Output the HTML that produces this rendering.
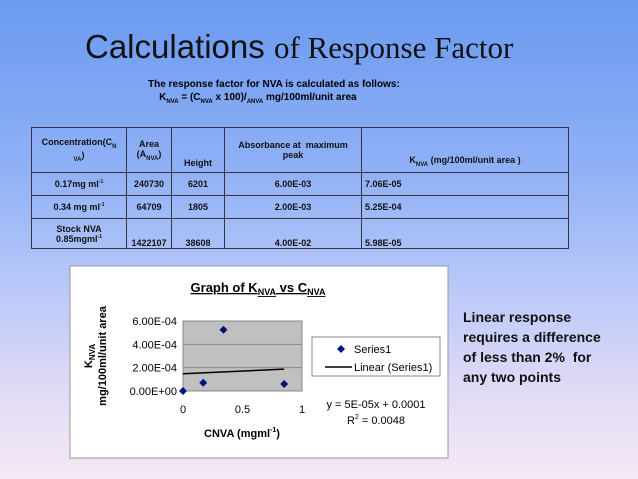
<!DOCTYPE html>
<html><head><meta charset="utf-8"><style>
body{margin:0;width:638px;height:479px;overflow:hidden;font-family:"Liberation Sans",sans-serif;}
#bg{position:absolute;left:0;top:0;width:638px;height:479px;background:linear-gradient(180deg,#6a9af0 0%,#8fb0f6 35%,#b9c8f8 60%,#e6ddf6 85%,#f4e8f4 100%);}
.t{position:absolute;white-space:nowrap;}
table{position:absolute;left:31px;top:127px;width:538px;border-collapse:collapse;font-size:9px;font-weight:bold;color:#111;}
td{border:1px solid #334;text-align:center;padding:0 3px;}
td.l{text-align:left;}
sub{font-size:6px;}
</style></head><body>
<div id="bg"></div>
<div class="t" style="left:85px;top:28px;font-size:33px;color:#111;"><span style="font-family:'Liberation Sans',sans-serif">Calculations</span> <span style="font-family:'Liberation Serif',serif;font-size:31px">of Response Factor</span></div>
<div class="t" style="left:148px;top:78px;font-size:10px;font-weight:bold;line-height:13px;">The response factor for NVA is calculated as follows:<br>&nbsp;&nbsp;&nbsp;&nbsp;K<sub>NVA</sub> = (C<sub>NVA</sub> x 100)/<sub>ANVA</sub> mg/100ml/unit area</div>
<table>
<tr style="height:45px"><td style="width:88px">Concentration(C<sub>N</sub><br><sub>VA</sub>)</td><td style="width:38px">Area<br>(A<sub>NVA</sub>)</td><td style="width:46px;vertical-align:bottom;padding-bottom:4px">Height</td><td style="width:130px">Absorbance at &nbsp;maximum<br>peak</td><td style="vertical-align:bottom;padding-bottom:4px">K<sub>NVA</sub> (mg/100ml/unit area )</td></tr>
<tr style="height:23px"><td>0.17mg ml<sup style="font-size:5px">-1</sup></td><td>240730</td><td>6201</td><td>6.00E-03</td><td class="l">7.06E-05</td></tr>
<tr style="height:23px"><td>0.34 mg ml<sup style="font-size:5px">-1</sup></td><td>64709</td><td>1805</td><td>2.00E-03</td><td class="l">5.25E-04</td></tr>
<tr style="height:30px"><td>Stock NVA<br>0.85mgml<sup style="font-size:5px">-1</sup></td><td style="vertical-align:bottom">1422107</td><td style="vertical-align:bottom">38608</td><td style="vertical-align:bottom">4.00E-02</td><td class="l" style="vertical-align:bottom">5.98E-05</td></tr>
</table>
<svg id="chart" width="638" height="479" style="position:absolute;left:0;top:0" font-family="Liberation Sans, sans-serif"></svg>
<div class="t" style="left:463px;top:307px;font-size:14px;font-weight:bold;line-height:20px;color:#111;">Linear response<br>requires a difference<br>of less than 2%&nbsp; for<br>any two points</div>
<script>
const xValues=[0,0.17,0.34,0.85];
const yValues=[0,7.06e-5,5.25e-4,5.98e-5];
const yTicks=[0,2e-4,4e-4,6e-4];
const yTickLabels=["0.00E+00","2.00E-04","4.00E-04","6.00E-04"];
const xTicks=[0,0.5,1];
const xTickLabels=["0","0.5","1"];
const svg=document.getElementById('chart');
const NS='http://www.w3.org/2000/svg';
function mk(t,a,txt){const e=document.createElementNS(NS,t);for(const k in a)e.setAttribute(k,a[k]);if(txt!=null)e.textContent=txt;svg.appendChild(e);return e;}
const X0=183,X1=302,Y0=391,Y1=321;
const sx=v=>X0+(v-0)/(1-0)*(X1-X0);
const sy=v=>Y0-(v-0)/(6e-4)*(Y0-Y1);
let e;
e=mk('rect',{x:70,y:266,width:378,height:192,fill:'#fff',stroke:'#999'});


e=mk('rect',{x:X0,y:Y1,width:X1-X0,height:Y0-Y1,fill:'#c0c0c0',stroke:'#888'});


yTicks.forEach((v,i)=>{
 e=mk('line',{x1:X0,x2:X1,y1:sy(v),y2:sy(v),stroke:'#888'});
 
 
 e=mk('text',{x:X0-6,y:sy(v)+4,'text-anchor':'end','font-size':11},yTickLabels[i]);
 
 
});
xTicks.forEach((v,i)=>{
 e=mk('text',{x:sx(v),y:413,'text-anchor':'middle','font-size':11},xTickLabels[i]);
 
 
});
// trendline via least squares
const n=xValues.length,mx=xValues.reduce((a,b)=>a+b)/n,my=yValues.reduce((a,b)=>a+b)/n;
let sxx=0,sxy=0;xValues.forEach((x,i)=>{sxx+=(x-mx)**2;sxy+=(x-mx)*(yValues[i]-my);});
const slope=sxy/sxx,icpt=my-slope*mx;
const xmin=Math.min(...xValues),xmax=Math.max(...xValues);
e=mk('line',{x1:sx(xmin),y1:sy(icpt+slope*xmin),x2:sx(xmax),y2:sy(icpt+slope*xmax),stroke:'#000','stroke-width':1.5});


xValues.forEach((x,i)=>{
 const cx=sx(x),cy=sy(yValues[i]);
 e=mk('polygon',{points:`${cx},${cy-4} ${cx+4},${cy} ${cx},${cy+4} ${cx-4},${cy}`,fill:'#00137f'});
 
 
});
e=mk('text',{x:258,y:292,'text-anchor':'middle','font-size':13,'font-weight':'bold','text-decoration':'underline'});


e.innerHTML='Graph of K<tspan font-size="9" dy="3">NVA</tspan><tspan dy="-3"> vs C</tspan><tspan font-size="9" dy="3">NVA</tspan>';
e=mk('text',{transform:'translate(96,356) rotate(-90)','text-anchor':'middle','font-size':11,'font-weight':'bold'});


e.innerHTML='<tspan x="0" dy="-4">K<tspan font-size="8" dy="3">NVA</tspan></tspan><tspan x="0" dy="11">mg/100ml/unit area</tspan>';
e=mk('text',{x:242,y:437,'text-anchor':'middle','font-size':11,'font-weight':'bold'});


e.innerHTML='CNVA (mgml<tspan font-size="7" dy="-5">-1</tspan><tspan dy="5">)</tspan>';
e=mk('rect',{x:312,y:337,width:128,height:39,fill:'#fff',stroke:'#888'});


e=mk('polygon',{points:'341,345 345,349 341,353 337,349',fill:'#00137f'});


e=mk('text',{x:354,y:353,'font-size':11},'Series1');


e=mk('line',{x1:325,x2:352,y1:367,y2:367,stroke:'#000','stroke-width':1.5});


e=mk('text',{x:354,y:371,'font-size':11},'Linear (Series1)');


e=mk('text',{x:376,y:408,'text-anchor':'middle','font-size':11},'y = 5E-05x + 0.0001');


e=mk('text',{x:376,y:424,'text-anchor':'middle','font-size':11});


e.innerHTML='R<tspan font-size="7" dy="-5">2</tspan><tspan dy="5"> = 0.0048</tspan>';
</script>
</body></html>
